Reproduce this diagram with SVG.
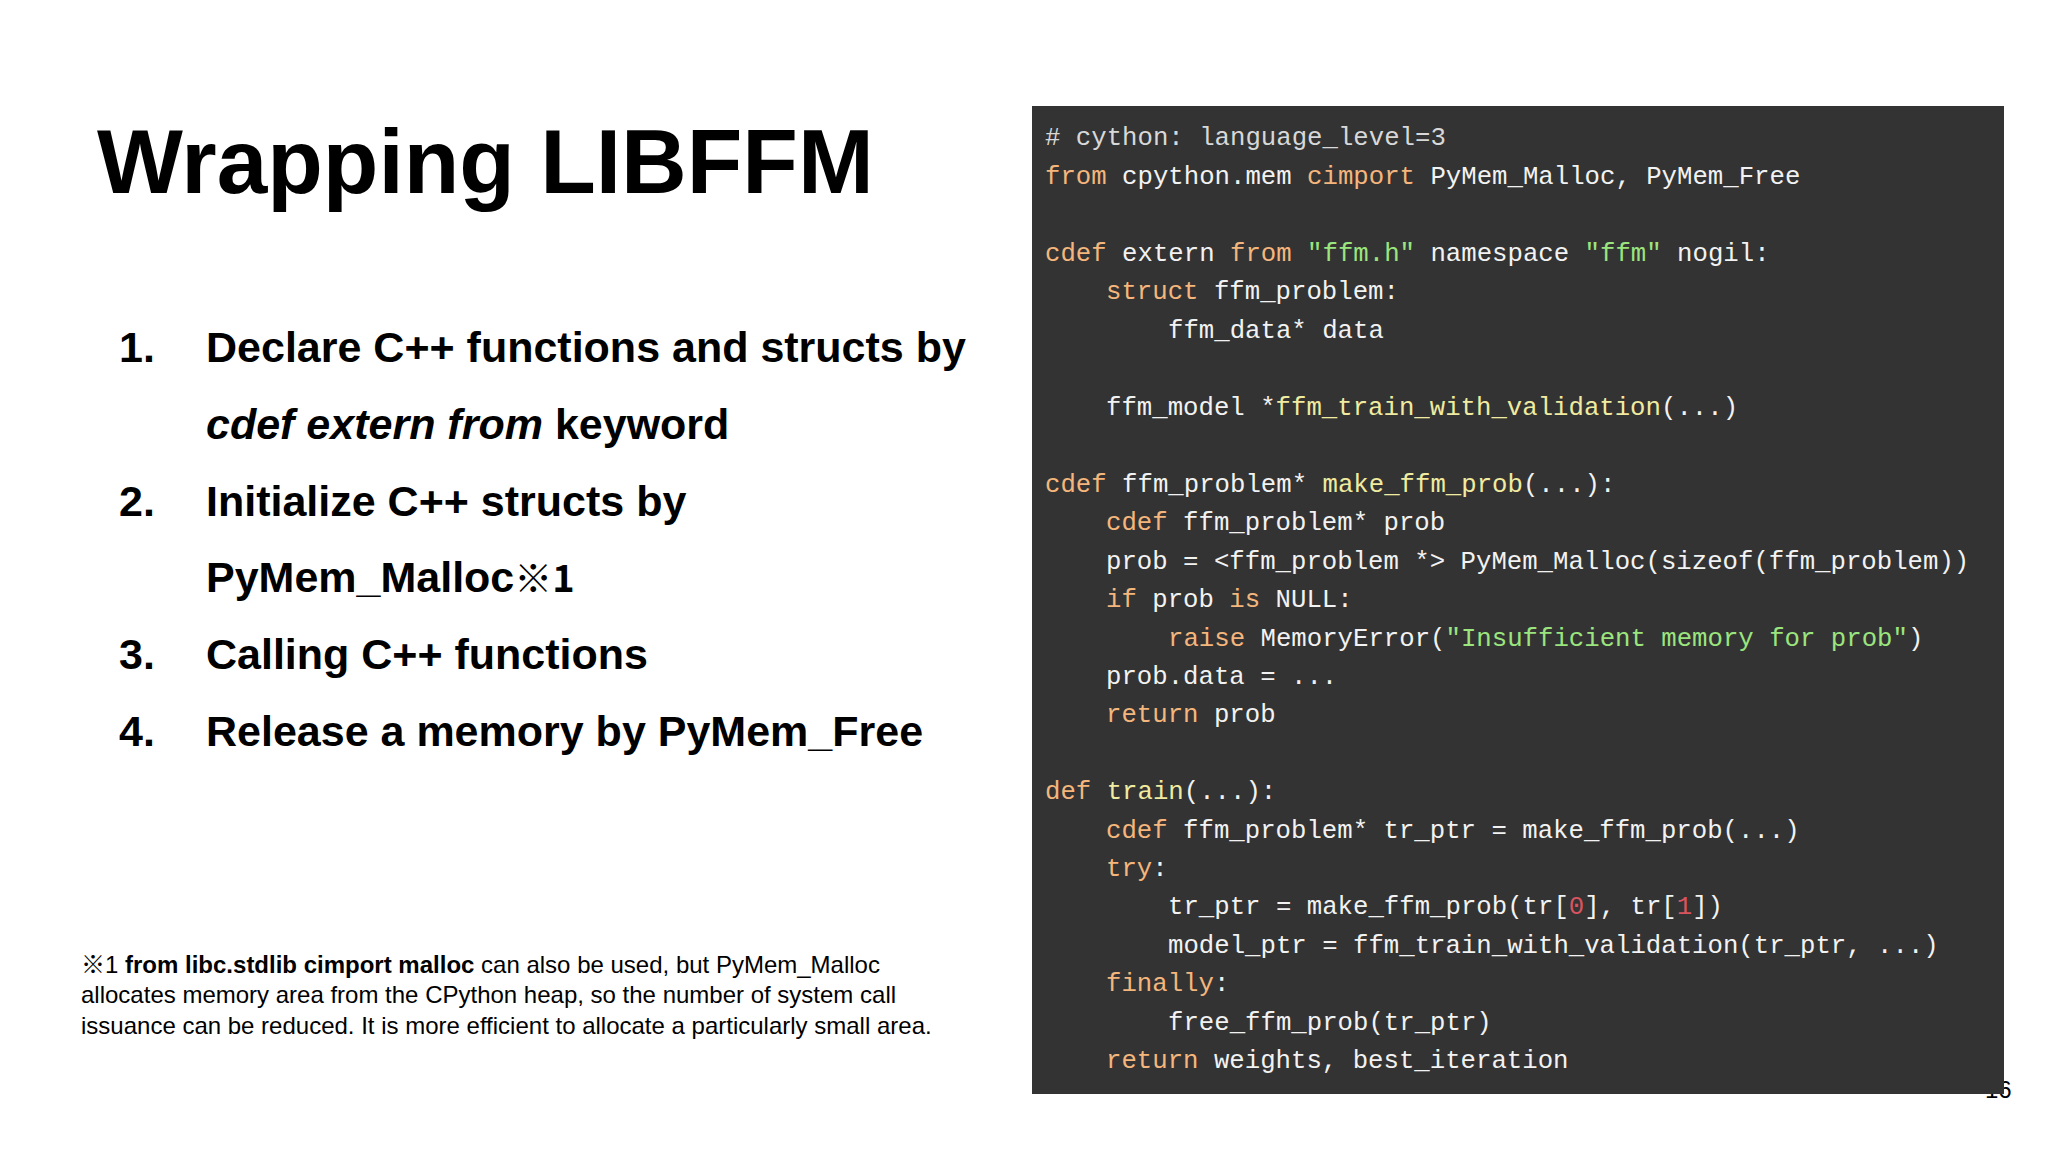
<svg xmlns="http://www.w3.org/2000/svg" width="2048" height="1152" viewBox="0 0 2048 1152">
<style>
.t{font-family:"Liberation Sans",Arial,sans-serif;fill:#000}
.b{font-weight:bold}
.c{font-family:"Liberation Mono","DejaVu Sans Mono",monospace;font-size:25.7px;fill:#f2f2f2;white-space:pre}
.k{fill:#f4b67c}.s{fill:#9be57f}.f{fill:#f0eba0}.n{fill:#d9545f}.m{fill:#d8d8d8}
</style>
<rect width="2048" height="1152" fill="#fff"/>
<g id="title"><text class="t b" x="97" y="193" font-size="91">Wrapping LIBFFM</text></g>
<g id="list" class="t b" font-size="43">
<text x="119" y="362">1.</text><text x="206" y="362">Declare C++ functions and structs by</text>
<text x="206" y="439"><tspan font-style="italic">cdef extern from</tspan> keyword</text>
<text x="119" y="516">2.</text><text x="206" y="516">Initialize C++ structs by</text>
<text x="206" y="592">PyMem_Malloc<tspan font-family="'Noto Sans CJK JP',sans-serif" font-size="38">※1</tspan></text>
<text x="119" y="669">3.</text><text x="206" y="669">Calling C++ functions</text>
<text x="119" y="746">4.</text><text x="206" y="746">Release a memory by PyMem_Free</text>
</g>
<g id="footnote" class="t" font-size="24">
<text x="81" y="973"><tspan font-family="'Noto Sans CJK JP',sans-serif">※</tspan>1 <tspan font-weight="bold">from libc.stdlib cimport malloc</tspan> can also be used, but PyMem_Malloc</text>
<text x="81" y="1003">allocates memory area from the CPython heap, so the number of system call</text>
<text x="81" y="1034">issuance can be reduced. It is more efficient to allocate a particularly small area.</text>
</g>
<text class="t" x="1985" y="1098" font-size="24" fill="#888">16</text>
<g id="code">
<rect x="1032" y="106" width="972" height="988" fill="#333333"/>
<text class="c" x="1045" y="145"><tspan class="m"># cython: language_level=3</tspan></text>
<text class="c" x="1045" y="184"><tspan class="k">from</tspan> cpython.mem <tspan class="k">cimport</tspan> PyMem_Malloc, PyMem_Free</text>
<text class="c" x="1045" y="261"><tspan class="k">cdef</tspan> extern <tspan class="k">from</tspan> <tspan class="s">"ffm.h"</tspan> namespace <tspan class="s">"ffm"</tspan> nogil:</text>
<text class="c" x="1106" y="299"><tspan class="k">struct</tspan> ffm_problem:</text>
<text class="c" x="1168" y="338">ffm_data* data</text>
<text class="c" x="1106" y="415">ffm_model *<tspan class="f">ffm_train_with_validation</tspan>(...)</text>
<text class="c" x="1045" y="492"><tspan class="k">cdef</tspan> ffm_problem* <tspan class="f">make_ffm_prob</tspan>(...):</text>
<text class="c" x="1106" y="530"><tspan class="k">cdef</tspan> ffm_problem* prob</text>
<text class="c" x="1106" y="569">prob = &lt;ffm_problem *&gt; PyMem_Malloc(sizeof(ffm_problem))</text>
<text class="c" x="1106" y="607"><tspan class="k">if</tspan> prob <tspan class="k">is</tspan> NULL:</text>
<text class="c" x="1168" y="646"><tspan class="k">raise</tspan> MemoryError(<tspan class="s">"Insufficient memory for prob"</tspan>)</text>
<text class="c" x="1106" y="684">prob.data = ...</text>
<text class="c" x="1106" y="722"><tspan class="k">return</tspan> prob</text>
<text class="c" x="1045" y="799"><tspan class="k">def</tspan> <tspan class="f">train</tspan>(...):</text>
<text class="c" x="1106" y="838"><tspan class="k">cdef</tspan> ffm_problem* tr_ptr = make_ffm_prob(...)</text>
<text class="c" x="1106" y="876"><tspan class="k">try</tspan>:</text>
<text class="c" x="1168" y="914">tr_ptr = make_ffm_prob(tr[<tspan class="n">0</tspan>], tr[<tspan class="n">1</tspan>])</text>
<text class="c" x="1168" y="953">model_ptr = ffm_train_with_validation(tr_ptr, ...)</text>
<text class="c" x="1106" y="991"><tspan class="k">finally</tspan>:</text>
<text class="c" x="1168" y="1030">free_ffm_prob(tr_ptr)</text>
<text class="c" x="1106" y="1068"><tspan class="k">return</tspan> weights, best_iteration</text>
</g>
</svg>
